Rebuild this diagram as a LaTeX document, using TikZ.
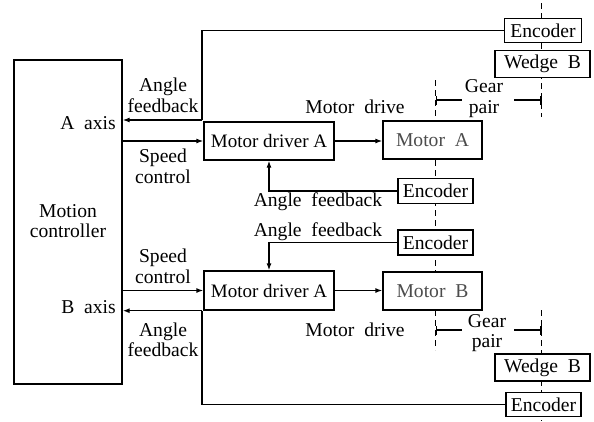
\documentclass[tikz,border=0pt]{standalone}
\usepackage{fontspec}
\setmainfont{Liberation Serif}[WordSpace=2]
\newfontfamily\tightfont{Liberation Serif}
\usetikzlibrary{arrows.meta}
\begin{document}
\begin{tikzpicture}[x=1pt,y=-1pt,
  txt/.style={font=\fontsize{19.6}{20.5}\selectfont},
  lbl/.style={txt, align=center, inner sep=0pt},
  box/.style={txt, draw, line width=1.3pt, fill=white, inner sep=0pt},
  drvbox/.style={box, font=\tightfont\fontsize{19}{20.5}\selectfont, minimum width=130pt},
  conn/.style={line width=1.3pt},
  arr/.style={conn, -{Latex[length=7pt,width=5pt]}},
  shaft/.style={line width=1.3pt, dash pattern=on 6pt off 4pt},
  barl/.style={conn, {Bar[width=9pt]}-},
  barr/.style={conn, -{Bar[width=9pt]}}
]
\useasboundingbox (0,0) rectangle (594,421);

% shafts
\coordinate (sAt) at (435.5,80);   \coordinate (sAb) at (435.5,350);
\coordinate (sTt) at (541.5,3);    \coordinate (sTb) at (541.5,117);
\coordinate (sBt) at (541.5,310);  \coordinate (sBb) at (541.5,421);
\draw[shaft] (sAt) -- (sAb);
\draw[shaft] (sTt) -- (sTb);
\draw[shaft] (sBt) -- (sBb);

% gear pair lines
\coordinate (gA1) at (435.5,100); \coordinate (gA2) at (462,100);
\coordinate (gA3) at (514,100);   \coordinate (gA4) at (541.5,100);
\coordinate (gB1) at (435.5,330); \coordinate (gB2) at (462,330);
\coordinate (gB3) at (514,330);   \coordinate (gB4) at (541.5,330);
\draw[barl] (gA1) -- (gA2);
\draw[barr] (gA3) -- (gA4);
\draw[barl] (gB1) -- (gB2);
\draw[barr] (gB3) -- (gB4);

% boxes
\node[box, minimum width=108pt, minimum height=324pt] (mc) at (68,222) {};
\node[drvbox, minimum height=38pt] (drvA) at (269,141) {Motor driver A};
\node[box, text=black!70, minimum width=99pt, minimum height=38pt] (motA) at (432.5,140) {Motor A};
\node[box, minimum width=75pt, minimum height=25pt] (encA) at (435.5,191) {Encoder};
\node[box, minimum width=77pt, minimum height=24pt] (encT) at (543,30.5) {Encoder};
\node[box, minimum width=95pt, minimum height=27pt] (wedT) at (542.5,64) {Wedge B};
\node[drvbox, minimum height=39pt] (drvB) at (269,290.5) {Motor driver A};
\node[box, text=black!70, minimum width=99pt, minimum height=38pt] (motB) at (432.5,291) {Motor B};
\node[box, minimum width=75pt, minimum height=25pt] (encB) at (435.5,242.5) {Encoder};
\node[box, minimum width=95pt, minimum height=27pt] (wedB) at (542.5,367.5) {Wedge B};
\node[box, minimum width=75pt, minimum height=24pt] (encBot) at (543.5,404.7) {Encoder};

% texts inside controller
\node[lbl, anchor=east] (ax) at (116,123) {A axis};
\node[lbl] (mct) at (68,221) {Motion\\controller};
\node[lbl, anchor=east] (bx) at (116,307) {B axis};

% labels
\node[lbl] (l1) at (163,95.5) {Angle\\feedback};
\node[lbl] (l2) at (163,166.5) {Speed\\control};
\node[lbl] (l3) at (355,107) {Motor drive};
\node[lbl] (l4) at (318,202) {Angle feedback};
\node[lbl] (l5) at (318,232) {Angle feedback};
\node[lbl] (l6) at (163,266.5) {Speed\\control};
\node[lbl] (l7) at (355,330) {Motor drive};
\node[lbl] (l8) at (163,340) {Angle\\feedback};
\node[lbl] (g1) at (484,98.5) {Gear\\pair};
\node[lbl] (g2) at (487,333) {Gear\\pair};

% connectors
\coordinate (cA) at (202,120);
\coordinate (cB) at (202,310.7);
\draw[conn] (encT.west) -| (cA);
\draw[arr] (cA) -- (mc.east |- cA);
\draw[arr] (mc.east |- drvA.west) -- (drvA.west);
\draw[arr] (drvA.east) -- (drvA.east -| motA.west);
\draw[arr] (encA.west) -| (drvA.south);
\draw[arr] (encB.west) -| (drvB.north);
\draw[arr] (mc.east |- drvB.west) -- (drvB.west);
\draw[arr] (drvB.east) -- (drvB.east -| motB.west);
\draw[conn] (encBot.west) -| (cB);
\draw[arr] (cB) -- (mc.east |- cB);
\end{tikzpicture}
\end{document}
